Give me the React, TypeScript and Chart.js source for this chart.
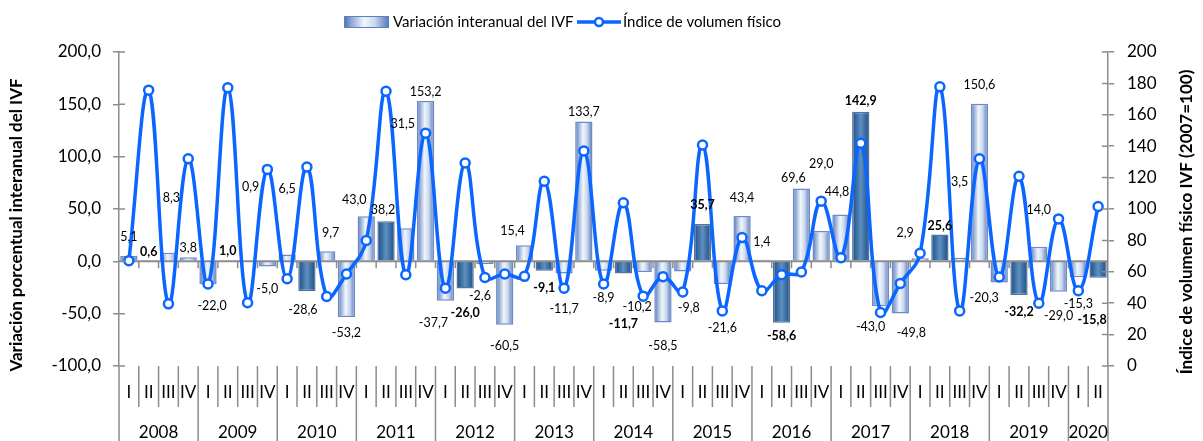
import React, { useEffect, useRef } from 'react';
import { Chart, registerables } from 'chart.js';

Chart.register(...registerables);

const years = ['2008', '2009', '2010', '2011', '2012', '2013', '2014', '2015', '2016', '2017', '2018', '2019', '2020'];
const quarterNames = ['I', 'II', 'III', 'IV'];
const categories = years.flatMap((y) => quarterNames.map((q) => `${q} ${y}`)).slice(0, 50);

// Variación interanual del IVF (%)
const variation = [
  5.1, 0.6, 8.3, 3.8,
  -22.0, 1.0, 0.9, -5.0,
  6.5, -28.6, 9.7, -53.2,
  43.0, 38.2, 31.5, 153.2,
  -37.7, -26.0, -2.6, -60.5,
  15.4, -9.1, -11.7, 133.7,
  -8.9, -11.7, -10.2, -58.5,
  -9.8, 35.7, -21.6, 43.4,
  1.4, -58.6, 69.6, 29.0,
  44.8, 142.9, -43.0, -49.8,
  2.9, 25.6, 3.5, 150.6,
  -20.3, -32.2, 14.0, -29.0,
  -15.3, -15.8,
];

// Índice de volumen físico (2007=100)
const ivf = [
  67.1, 175.7, 39.6, 132.0,
  52.2, 177.2, 40.3, 125.2,
  55.6, 126.7, 44.3, 58.6,
  79.9, 175.0, 58.1, 148.3,
  49.6, 129.3, 56.4, 58.6,
  57.1, 117.6, 49.6, 137.0,
  52.2, 104.0, 44.5, 56.9,
  47.1, 140.8, 35.1, 81.8,
  47.9, 58.1, 59.9, 105.0,
  69.0, 141.9, 34.1, 52.6,
  71.8, 177.8, 35.1, 132.0,
  56.7, 120.8, 40.0, 93.7,
  47.9, 101.6,
];

const leftTicks = [-100, -50, 0, 50, 100, 150, 200];
const rightTicks = [0, 20, 40, 60, 80, 100, 120, 140, 160, 180, 200];

// darker (second quarter) bars and bold labels
const darkBars = [1, 5, 9, 13, 17, 21, 25, 29, 33, 37, 41, 45, 49];
const boldLabels = [1, 5, 17, 21, 25, 29, 33, 37, 41, 45, 49];

// label placement nudges (px) away from bar end, and horizontal shift
const labelLift = [
  10, 0, 46, 0, 13, 0, 64, 13, 57, 10,
  9, 7, 7, 2, 95, 0, 13, 15, 23, 12,
  5, 8, 26, 0, 18, 41, 26, 14, 27, 10,
  35, 9, 9, 4, 2, 58, 13, 2, 12, 11,
  16, 0, 67, 10, 6, 8, 28, 15, 18, 33,
];
const labelShift = [
  0, 0, 3, 0, 4, 0, 3, 0, 0, -4,
  4, 0, -12, -3, -3, 0, -12, 0, -5, 0,
  -12, 0, 0, 0, 0, 0, -6, 0, 6, 0,
  0, 0, 0, 0, -8, 0, -4, 0, -10, 11,
  -15, 0, 0, 0, -15, 0, 0, 0, 0, -6,
];

const FONT = 'Lato, "Open Sans", sans-serif';
const AXIS = '#8c8c8c';
const LINE = '#0a66ff';

const fmt = (v: number, d = 1) => v.toFixed(d).replace('.', ',');

function barGradient(c: CanvasRenderingContext2D, x0: number, x1: number, dark: boolean) {
  const g = c.createLinearGradient(x0, 0, x1, 0);
  if (dark) {
    g.addColorStop(0, '#1f4c80');
    g.addColorStop(0.25, '#3a6da2');
    g.addColorStop(0.5, '#5f90c0');
    g.addColorStop(0.75, '#3a6da2');
    g.addColorStop(1, '#1f4c80');
  } else {
    g.addColorStop(0, '#4a6fb0');
    g.addColorStop(0.18, '#93acd6');
    g.addColorStop(0.45, '#f1f6fc');
    g.addColorStop(0.68, '#cbd9ee');
    g.addColorStop(1, '#5275b5');
  }
  return g;
}

const decor = {
  id: 'decor',
  afterDatasetDraw(chart: any, args: any) {
    if (args.index !== 0) return;
    const { ctx, chartArea: ca, scales } = chart;
    const y0 = scales.y.getPixelForValue(0);
    const xs = scales.x;
    const cw = (ca.right - ca.left) / categories.length;
    ctx.save();
    ctx.strokeStyle = AXIS;
    ctx.lineWidth = 2;
    ctx.beginPath();
    ctx.moveTo(ca.left, y0);
    ctx.lineTo(ca.right, y0);
    ctx.stroke();
    ctx.lineWidth = 1.5;
    ctx.beginPath();
    for (let i = 1; i < categories.length; i++) {
      const x = xs.getPixelForValue(i) - cw / 2;
      ctx.moveTo(x, y0);
      ctx.lineTo(x, y0 + 7);
    }
    ctx.stroke();
    ctx.restore();
  },
  afterDatasetsDraw(chart: any) {
    const { ctx } = chart;
    const meta = chart.getDatasetMeta(0);
    ctx.save();
    ctx.fillStyle = '#000';
    ctx.textAlign = 'center';
    ctx.textBaseline = 'middle';
    variation.forEach((v, i) => {
      const el = meta.data[i];
      if (!el) return;
      const bold = boldLabels.includes(i);
      ctx.font = `${bold ? 'bold ' : ''}12.5px ${FONT}`;
      const off = 9 + labelLift[i];
      const y = v >= 0 ? el.y - off : el.y + off;
      ctx.fillText(fmt(v), el.x + labelShift[i], y);
    });
    ctx.restore();
  },
  afterDraw(chart: any) {
    const { ctx, chartArea: ca, scales } = chart;
    const xs = scales.x;
    const n = categories.length;
    const cw = (ca.right - ca.left) / n;
    ctx.save();
    // inner halves of axis ticks
    ctx.strokeStyle = AXIS;
    ctx.lineWidth = 1.5;
    ctx.beginPath();
    leftTicks.forEach((t) => {
      const y = scales.y.getPixelForValue(t);
      ctx.moveTo(ca.left, y);
      ctx.lineTo(ca.left + 6, y);
    });
    rightTicks.forEach((t) => {
      const y = scales.y1.getPixelForValue(t);
      ctx.moveTo(ca.right - 6, y);
      ctx.lineTo(ca.right, y);
    });
    // category separators
    for (let i = 0; i <= n; i++) {
      const x = i < n ? xs.getPixelForValue(i) - cw / 2 : xs.getPixelForValue(n - 1) + cw / 2;
      const yearEdge = i % 4 === 0 || i === n;
      ctx.moveTo(x, ca.bottom);
      ctx.lineTo(x, yearEdge ? chart.height : ca.bottom + 41);
    }
    ctx.stroke();
    // quarter labels
    ctx.fillStyle = '#000';
    ctx.textAlign = 'center';
    ctx.textBaseline = 'middle';
    ctx.font = `17px ${FONT}`;
    categories.forEach((c, i) => {
      ctx.fillText(c.split(' ')[0], xs.getPixelForValue(i), ca.bottom + 27);
    });
    // year labels
    years.forEach((y, k) => {
      const first = k * 4;
      const last = Math.min(first + 3, n - 1);
      const x = (xs.getPixelForValue(first) + xs.getPixelForValue(last)) / 2;
      ctx.fillText(y, x, ca.bottom + 67);
    });
    // axis titles
    ctx.font = `bold 17px ${FONT}`;
    ctx.save();
    ctx.translate(17, 225);
    ctx.rotate(-Math.PI / 2);
    ctx.fillText('Variación porcentual interanual del IVF', 0, 0);
    ctx.restore();
    ctx.save();
    ctx.translate(1187, 222);
    ctx.rotate(-Math.PI / 2);
    ctx.fillText('Índice de volumen físico IVF (2007=100)', 0, 0);
    ctx.restore();
    // legend
    const ly = 22;
    ctx.fillStyle = barGradient(ctx, 344, 389, false);
    ctx.fillRect(344, ly - 6, 45, 12);
    ctx.strokeStyle = '#5f80bf';
    ctx.lineWidth = 1;
    ctx.strokeRect(344.5, ly - 5.5, 44, 11);
    ctx.fillStyle = '#000';
    ctx.textAlign = 'left';
    ctx.font = `15px ${FONT}`;
    ctx.fillText('Variación interanual del IVF', 393, ly);
    ctx.strokeStyle = LINE;
    ctx.lineWidth = 3.5;
    ctx.beginPath();
    ctx.moveTo(577, ly);
    ctx.lineTo(621, ly);
    ctx.stroke();
    ctx.beginPath();
    ctx.arc(599, ly, 4, 0, Math.PI * 2);
    ctx.fillStyle = '#fff';
    ctx.fill();
    ctx.lineWidth = 2.5;
    ctx.stroke();
    ctx.fillStyle = '#000';
    ctx.fillText('Índice de volumen físico', 623, ly);
    ctx.restore();
  },
};

export default function App() {
  const ref = useRef<HTMLCanvasElement>(null);
  useEffect(() => {
    if (!ref.current) return;
    Chart.defaults.font.family = FONT;
    const chart = new Chart(ref.current, {
      type: 'bar',
      data: {
        labels: categories,
        datasets: [
          {
            type: 'bar',
            label: 'Variación interanual del IVF',
            data: variation,
            yAxisID: 'y',
            order: 1,
            barPercentage: 0.875,
            categoryPercentage: 1,
            borderWidth: 1.5,
            borderColor: (c: any) => (darkBars.includes(c.dataIndex) ? 'rgba(40,80,135,0.8)' : 'rgba(85,115,190,0.85)'),
            backgroundColor: (c: any) => {
              const chart = c.chart;
              const xs = chart.scales?.x;
              const i = c.dataIndex;
              if (!xs || i == null || !chart.chartArea) return '#a9bedd';
              const cw = chart.chartArea.width / categories.length;
              const cx = xs.getPixelForValue(i);
              const w = cw * 0.875;
              return barGradient(chart.ctx, cx - w / 2, cx + w / 2, darkBars.includes(i));
            },
          } as any,
          {
            type: 'line',
            label: 'Índice de volumen físico',
            data: ivf,
            yAxisID: 'y1',
            order: 0,
            borderColor: LINE,
            borderWidth: 3.5,
            tension: 0.4,
            pointRadius: 4.5,
            pointBorderWidth: 2.5,
            pointBackgroundColor: '#fff',
            pointBorderColor: LINE,
          } as any,
        ],
      },
      options: {
        responsive: false,
        animation: false,
        devicePixelRatio: 1,
        layout: { padding: { top: 52, left: 0, right: 0, bottom: 0 } },
        plugins: { legend: { display: false }, tooltip: { enabled: false }, title: { display: false } },
        scales: {
          x: {
            type: 'category',
            offset: true,
            grid: { display: false },
            border: { display: false },
            ticks: { display: false },
            afterFit: (s: any) => { s.height = 75; },
          },
          y: {
            position: 'left',
            min: -100,
            max: 200,
            afterBuildTicks: (s: any) => { s.ticks = leftTicks.map((v) => ({ value: v })); },
            ticks: {
              callback: (v: any) => fmt(Number(v)),
              color: '#000',
              font: { size: 17, family: FONT },
              padding: 12,
            },
            grid: { drawOnChartArea: false, tickLength: 6, color: AXIS, lineWidth: 1.5 },
            border: { color: AXIS, width: 1.5 },
            afterFit: (s: any) => { s.width = 119; },
          },
          y1: {
            position: 'right',
            min: 0,
            max: 200,
            afterBuildTicks: (s: any) => { s.ticks = rightTicks.map((v) => ({ value: v })); },
            ticks: {
              callback: (v: any) => String(v),
              color: '#000',
              font: { size: 17, family: FONT },
              padding: 13,
            },
            grid: { drawOnChartArea: false, tickLength: 6, color: AXIS, lineWidth: 1.5 },
            border: { color: AXIS, width: 1.5 },
            afterFit: (s: any) => { s.width = 95; },
          },
        },
      },
      plugins: [decor],
    } as any);
    return () => chart.destroy();
  }, []);
  return (
    <div style={{ position: 'absolute', left: 0, top: 0, width: 1203, height: 441, background: '#fff' }}>
      <canvas ref={ref} width={1203} height={441} />
    </div>
  );
}
